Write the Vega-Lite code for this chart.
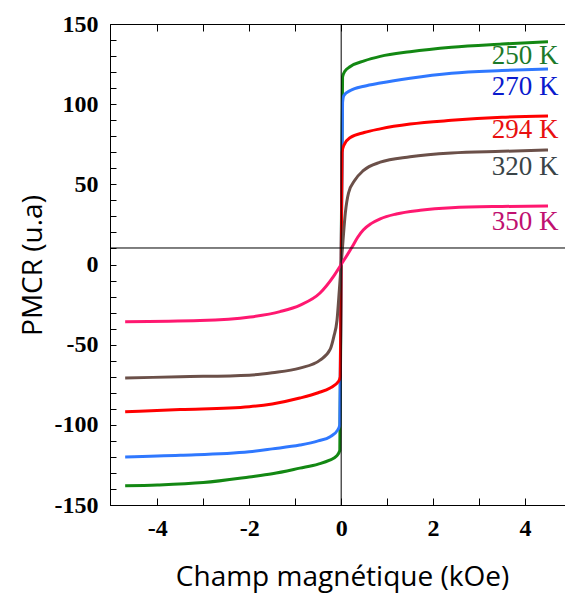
{
  "$schema": "https://vega.github.io/schema/vega-lite/v6.json",
  "width": 455,
  "height": 481,
  "autosize": {"type": "none"},
  "padding": {"left": 110, "top": 24, "right": 0, "bottom": 94},
  "background": "white",
  "config": {
    "view": {"stroke": "black", "strokeWidth": 1},
    "axis": {
      "domainColor": "black",
      "tickColor": "black",
      "grid": false,
      "labelFont": "Liberation Serif",
      "labelFontWeight": "bold",
      "labelFontSize": 24,
      "labelColor": "black",
      "labelOverlap": false,
      "titleFont": "Open Sans",
      "titleFontWeight": "normal",
      "titleFontSize": 28,
      "titleColor": "black"
    }
  },
  "resolve": {"scale": {"color": "independent"}, "axis": {"x": "independent"}},
  "datasets": {
    "curves": [
      {"T": "250 K", "H": -4.7, "M": -138},
      {"T": "250 K", "H": -4.0, "M": -137.5},
      {"T": "250 K", "H": -3.0, "M": -136},
      {"T": "250 K", "H": -2.0, "M": -132.5},
      {"T": "250 K", "H": -1.5, "M": -130.5},
      {"T": "250 K", "H": -0.9, "M": -127},
      {"T": "250 K", "H": -0.5, "M": -124.5},
      {"T": "250 K", "H": -0.25, "M": -122},
      {"T": "250 K", "H": -0.1, "M": -119.5},
      {"T": "250 K", "H": -0.03, "M": -116},
      {"T": "250 K", "H": 0.0, "M": 0},
      {"T": "250 K", "H": 0.03, "M": 117},
      {"T": "250 K", "H": 0.08, "M": 120.5},
      {"T": "250 K", "H": 0.2, "M": 123.5},
      {"T": "250 K", "H": 0.5, "M": 127},
      {"T": "250 K", "H": 0.85, "M": 129.8},
      {"T": "250 K", "H": 1.5, "M": 132.7},
      {"T": "250 K", "H": 2.4, "M": 135.5},
      {"T": "250 K", "H": 3.5, "M": 137.5},
      {"T": "250 K", "H": 4.5, "M": 139},
      {"T": "270 K", "H": -4.7, "M": -120},
      {"T": "270 K", "H": -3.5, "M": -119},
      {"T": "270 K", "H": -2.0, "M": -116.8},
      {"T": "270 K", "H": -1.5, "M": -115},
      {"T": "270 K", "H": -0.9, "M": -112.6},
      {"T": "270 K", "H": -0.5, "M": -110},
      {"T": "270 K", "H": -0.24, "M": -107.4},
      {"T": "270 K", "H": -0.07, "M": -103},
      {"T": "270 K", "H": -0.03, "M": -100},
      {"T": "270 K", "H": 0.0, "M": 0},
      {"T": "270 K", "H": 0.03, "M": 101},
      {"T": "270 K", "H": 0.06, "M": 105.5},
      {"T": "270 K", "H": 0.2, "M": 108.5},
      {"T": "270 K", "H": 0.5, "M": 111.2},
      {"T": "270 K", "H": 0.85, "M": 113.2},
      {"T": "270 K", "H": 1.5, "M": 116.2},
      {"T": "270 K", "H": 2.4, "M": 119.3},
      {"T": "270 K", "H": 3.5, "M": 121},
      {"T": "270 K", "H": 4.5, "M": 122},
      {"T": "294 K", "H": -4.7, "M": -91.8},
      {"T": "294 K", "H": -3.5, "M": -90.5},
      {"T": "294 K", "H": -2.0, "M": -88.7},
      {"T": "294 K", "H": -1.5, "M": -87},
      {"T": "294 K", "H": -0.9, "M": -83.3},
      {"T": "294 K", "H": -0.5, "M": -80},
      {"T": "294 K", "H": -0.24, "M": -77},
      {"T": "294 K", "H": -0.06, "M": -73},
      {"T": "294 K", "H": -0.02, "M": -70},
      {"T": "294 K", "H": 0.02, "M": 70},
      {"T": "294 K", "H": 0.06, "M": 74.5},
      {"T": "294 K", "H": 0.2, "M": 79.2},
      {"T": "294 K", "H": 0.5, "M": 82.3},
      {"T": "294 K", "H": 0.85, "M": 84.6},
      {"T": "294 K", "H": 1.5, "M": 87.6},
      {"T": "294 K", "H": 2.4, "M": 89.9},
      {"T": "294 K", "H": 3.5, "M": 91.8},
      {"T": "294 K", "H": 4.5, "M": 92.6},
      {"T": "320 K", "H": -4.7, "M": -70.8},
      {"T": "320 K", "H": -3.5, "M": -70},
      {"T": "320 K", "H": -2.0, "M": -69},
      {"T": "320 K", "H": -1.5, "M": -67.5},
      {"T": "320 K", "H": -0.9, "M": -64.6},
      {"T": "320 K", "H": -0.46, "M": -59.6},
      {"T": "320 K", "H": -0.24, "M": -53},
      {"T": "320 K", "H": -0.16, "M": -45},
      {"T": "320 K", "H": -0.09, "M": -34.6},
      {"T": "320 K", "H": -0.04, "M": -16},
      {"T": "320 K", "H": 0.0, "M": 0},
      {"T": "320 K", "H": 0.04, "M": 15},
      {"T": "320 K", "H": 0.09, "M": 32},
      {"T": "320 K", "H": 0.16, "M": 44.6},
      {"T": "320 K", "H": 0.3, "M": 52.7},
      {"T": "320 K", "H": 0.48, "M": 58.5},
      {"T": "320 K", "H": 0.85, "M": 63.8},
      {"T": "320 K", "H": 1.5, "M": 67.2},
      {"T": "320 K", "H": 2.4, "M": 69.6},
      {"T": "320 K", "H": 3.5, "M": 70.6},
      {"T": "320 K", "H": 4.5, "M": 71.4},
      {"T": "350 K", "H": -4.7, "M": -35.7},
      {"T": "350 K", "H": -3.07, "M": -35},
      {"T": "350 K", "H": -1.98, "M": -32.8},
      {"T": "350 K", "H": -1.33, "M": -29.4},
      {"T": "350 K", "H": -0.89, "M": -25.3},
      {"T": "350 K", "H": -0.46, "M": -17.8},
      {"T": "350 K", "H": -0.17, "M": -7.6},
      {"T": "350 K", "H": 0.0, "M": 0},
      {"T": "350 K", "H": 0.24, "M": 11},
      {"T": "350 K", "H": 0.36, "M": 17},
      {"T": "350 K", "H": 0.48, "M": 21.5},
      {"T": "350 K", "H": 0.65, "M": 25.5},
      {"T": "350 K", "H": 0.85, "M": 28.5},
      {"T": "350 K", "H": 1.2, "M": 31.5},
      {"T": "350 K", "H": 1.72, "M": 33.8},
      {"T": "350 K", "H": 2.4, "M": 35.4},
      {"T": "350 K", "H": 3.5, "M": 36.2},
      {"T": "350 K", "H": 4.5, "M": 36.5}
    ],
    "labels": [
      {"T": "250 K", "H": 4.0, "M": 129.8},
      {"T": "270 K", "H": 4.0, "M": 110.7},
      {"T": "294 K", "H": 4.0, "M": 83.9},
      {"T": "320 K", "H": 4.0, "M": 60.8},
      {"T": "350 K", "H": 4.0, "M": 26.5}
    ],
    "zero": [{"H": 0, "M": 10.3}]
  },
  "layer": [
    {
      "data": {"name": "curves"},
      "mark": {"type": "line", "strokeWidth": 3, "interpolate": "monotone"},
      "encoding": {
        "x": {
          "field": "H", "type": "quantitative",
          "scale": {"domain": [-5.03, 4.87], "nice": false, "zero": false},
          "axis": {
            "orient": "bottom",
            "title": "Champ magnétique (kOe)",
            "values": [-4, -3, -2, -1, 0, 1, 2, 3, 4],
            "tickCount": 100,
            "labelExpr": "datum.value % 2 == 0 ? (datum.value < 0 ? '-' + abs(datum.value) : datum.value + '') : ''",
            "labelOverlap": false,
            "tickSize": -7,
            "labelPadding": 18,
            "titleX": 232,
            "titleY": 72,
            "titleBaseline": "middle",
            "titleAlign": "center"
          }
        },
        "y": {
          "field": "M", "type": "quantitative",
          "scale": {"domain": [-150, 150], "nice": false},
          "axis": {
            "orient": "left",
            "title": "PMCR (u.a)",
            "values": [-150, -140, -130, -120, -110, -100, -90, -80, -70, -60, -50, -40, -30, -20, -10, 0, 10, 20, 30, 40, 50, 60, 70, 80, 90, 100, 110, 120, 130, 140, 150],
            "tickCount": 100,
            "labelExpr": "datum.value % 50 == 0 ? (datum.value < 0 ? '-' + abs(datum.value) : datum.value + '') : ''",
            "labelOverlap": false,
            "labelFlush": false,
            "tickSize": -6,
            "labelPadding": 18,
            "titleX": -77,
            "titleY": 241,
            "titleBaseline": "middle",
            "titleAlign": "center",
            "titleAngle": -90
          }
        },
        "color": {
          "field": "T", "type": "nominal",
          "scale": {
            "domain": ["250 K", "270 K", "294 K", "320 K", "350 K"],
            "range": ["#138813", "#2F78FF", "#FF0000", "#6B5049", "#FF1870"]
          },
          "legend": null
        }
      }
    },
    {
      "data": {"name": "zero"},
      "mark": {"type": "rule", "color": "black", "strokeWidth": 1},
      "encoding": {
        "x": {
          "field": "H", "type": "quantitative",
          "axis": {
            "orient": "top",
            "values": [-4, -3, -2, -1, 0, 1, 2, 3, 4],
            "tickCount": 100,
            "labels": false,
            "domain": false,
            "title": null,
            "tickSize": -7
          }
        }
      }
    },
    {
      "data": {"name": "zero"},
      "mark": {"type": "rule", "color": "black", "strokeWidth": 1},
      "encoding": {
        "y": {"field": "M", "type": "quantitative"}
      }
    },
    {
      "data": {"name": "labels"},
      "mark": {"type": "text", "font": "Liberation Serif", "fontSize": 27, "align": "center", "baseline": "middle"},
      "encoding": {
        "x": {"field": "H", "type": "quantitative", "axis": null},
        "y": {"field": "M", "type": "quantitative"},
        "text": {"field": "T"},
        "color": {
          "field": "T", "type": "nominal",
          "scale": {
            "domain": ["250 K", "270 K", "294 K", "320 K", "350 K"],
            "range": ["#1C7A2A", "#0A1ACD", "#E81010", "#3A4448", "#C01070"]
          },
          "legend": null
        }
      }
    }
  ]
}
